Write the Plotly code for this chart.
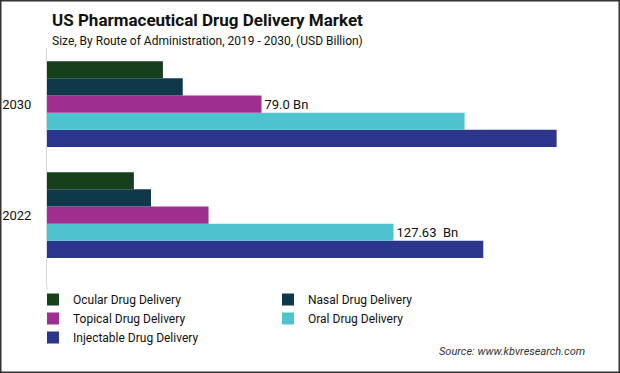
import plotly.graph_objects as go

years = ["2022", "2030"]
series = ["Ocular Drug Delivery", "Nasal Drug Delivery", "Topical Drug Delivery",
          "Oral Drug Delivery", "Injectable Drug Delivery"]
values = {
    "Ocular Drug Delivery": [32.0, 42.7],
    "Nasal Drug Delivery": [38.3, 50.0],
    "Topical Drug Delivery": [59.5, 79.0],
    "Oral Drug Delivery": [127.63, 153.8],
    "Injectable Drug Delivery": [160.7, 187.7],
}
labels = {
    "Topical Drug Delivery": ["", "79.0 Bn"],
    "Oral Drug Delivery": ["127.63  Bn", ""],
}
colors = {
    "Ocular Drug Delivery": "#163f1c",
    "Nasal Drug Delivery": "#0f384b",
    "Topical Drug Delivery": "#9e2f91",
    "Oral Drug Delivery": "#4fc2cf",
    "Injectable Drug Delivery": "#2b368c",
}

W, H = 620, 373
ML, MR, MT, MB = 47, 30, 48, 88
PW, PH = W - ML - MR, H - MT - MB
FONT = "Roboto"

fig = go.Figure()
for s in reversed(series):
    fig.add_trace(go.Bar(
        y=years, x=values[s], orientation="h", name=s,
        marker=dict(color=colors[s], line=dict(width=0)),
        text=labels.get(s, ["", ""]), textposition="outside",
        textfont=dict(size=13, color="#111", family=FONT),
        cliponaxis=False,
    ))

def px(x):
    return (x - ML) / PW

def py(y):
    return (H - MB - y) / PH

fig.update_layout(
    width=W, height=H,
    margin=dict(l=ML, r=MR, t=MT, b=MB, autoexpand=False),
    paper_bgcolor="white", plot_bgcolor="white",
    barmode="group", bargap=0.228, bargroupgap=0,
    font=dict(family=FONT, color="#111"),
    xaxis=dict(range=[0, 200], visible=False),
    yaxis=dict(type="category", categoryorder="array", categoryarray=years,
               range=[-0.630, 1.505], showline=True, linecolor="#d9d9d9",
               linewidth=1, ticks="", tickfont=dict(size=13, color="#111"),
               showgrid=False, ticklabelstandoff=12, automargin=False),
    showlegend=True,
    legend=dict(orientation="h", traceorder="reversed", x=px(33), xanchor="left",
                y=0, yanchor="top", font=dict(size=12, color="#111"),
                entrywidth=190, entrywidthmode="pixels", itemwidth=30,
                tracegroupgap=0, bgcolor="rgba(0,0,0,0)"),
    annotations=[
        dict(text="<b>US Pharmaceutical Drug Delivery Market</b>", x=px(50), y=py(20),
             xref="paper", yref="paper", xanchor="left", yanchor="middle",
             showarrow=False, font=dict(size=17, color="#111", family=FONT)),
        dict(text="Size, By Route of Administration, 2019 - 2030, (USD Billion)",
             x=px(50), y=py(41), xref="paper", yref="paper", xanchor="left",
             yanchor="middle", showarrow=False,
             font=dict(size=12, color="#111", family=FONT)),
        dict(text="<i>Source: www.kbvresearch.com</i>", x=px(587), y=py(352),
             xref="paper", yref="paper", xanchor="right", yanchor="middle",
             showarrow=False, font=dict(size=11, color="#333", family=FONT)),
    ],
    shapes=[
        dict(type="line", xref="paper", yref="paper", x0=0, x1=0,
             y0=0, y1=py(290), line=dict(color="#d9d9d9", width=1)),
        dict(type="rect", xref="paper", yref="paper",
             x0=px(0.75), x1=px(W - 0.75), y0=py(H - 0.75), y1=py(0.75),
             line=dict(color="#333", width=1.5), fillcolor="rgba(0,0,0,0)"),
    ],
)

fig.write_html("out.html", config={"displayModeBar": False},
               post_script="document.body.style.margin='0px';")
